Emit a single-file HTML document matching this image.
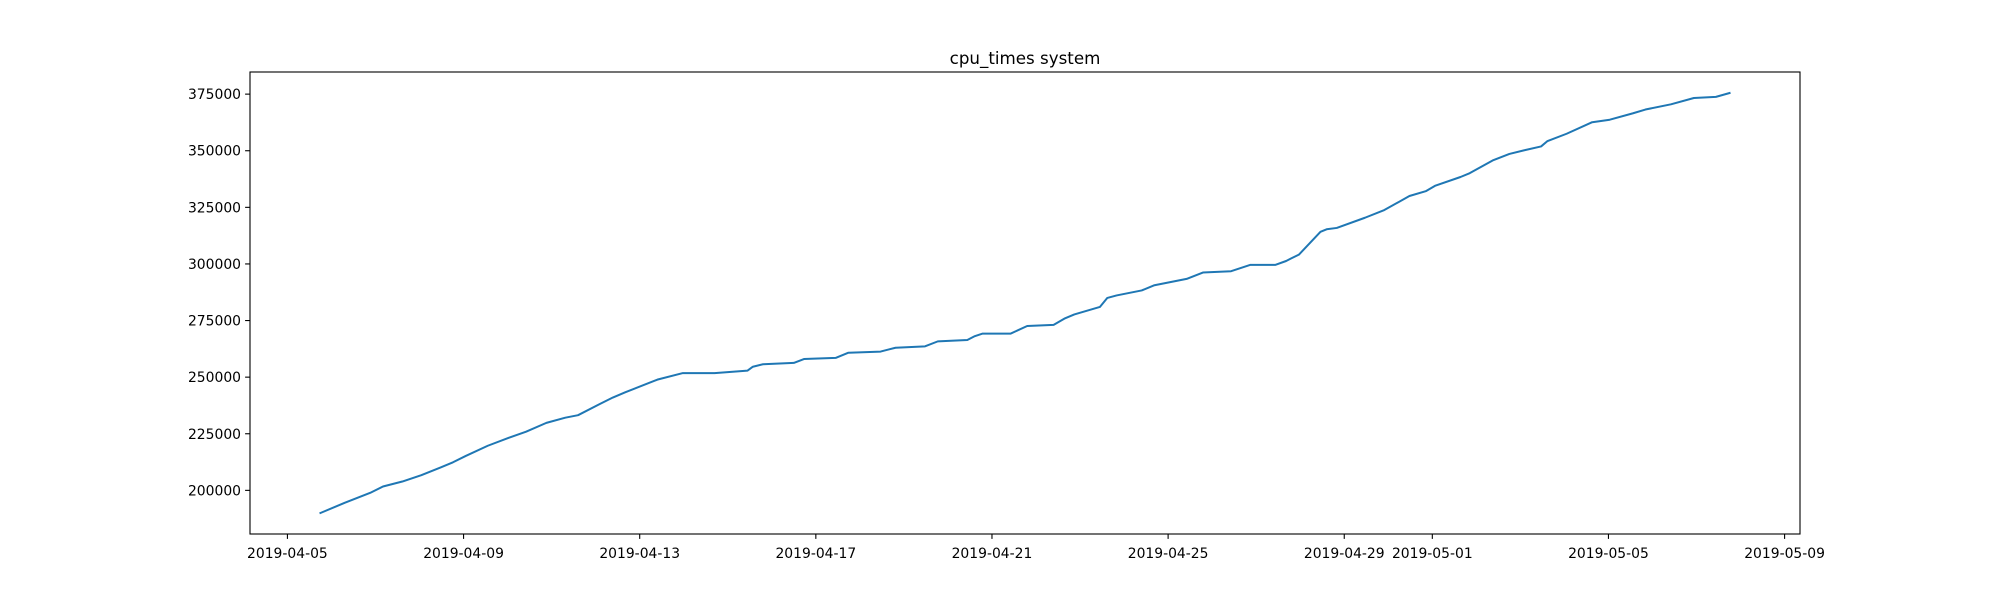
<!DOCTYPE html>
<html><head><meta charset="utf-8"><style>
html,body{margin:0;padding:0;background:#fff;}
svg{display:block;font-family:"DejaVu Sans","Liberation Sans",sans-serif;}
</style></head><body>
<svg id="chart" width="2000" height="600" xmlns="http://www.w3.org/2000/svg"></svg>
<script>
// Data: days since 2019-04-05 00:00, and cpu_times system values
const days = [0.75,1.30,1.88,2.17,2.61,3.04,3.48,3.76,4.05,4.55,5.01,5.42,5.88,6.31,6.60,7.10,7.39,7.67,8.40,8.98,9.70,10.45,10.57,10.80,11.50,11.73,12.45,12.74,13.47,13.81,14.48,14.77,15.44,15.61,15.78,16.42,16.80,17.40,17.66,17.87,18.45,18.62,18.83,19.40,19.69,20.42,20.79,21.43,21.87,22.44,22.68,22.79,22.97,23.46,23.60,23.83,24.47,24.91,25.48,25.86,26.06,26.64,26.85,27.37,27.75,28.09,28.47,28.61,29.05,29.63,30.03,30.55,30.84,31.42,31.94,32.44,32.75];
const values = [190000,194500,198900,201700,203900,206700,210100,212400,215200,219700,223100,225900,229800,232100,233200,238200,241000,243300,248900,251800,251800,252900,254600,255700,256300,258000,258500,260800,261300,263000,263600,265800,266400,268100,269200,269200,272600,273100,276000,277700,281000,285000,286100,288300,290600,293400,296200,296800,299600,299600,301300,302400,304100,314200,315300,315900,320400,323800,330000,332200,334500,338400,340100,345700,348600,350200,351900,354200,357500,362600,363700,366500,368200,370500,373300,373800,375500];
const xTickDays = [0,4,8,12,16,20,24,26,30,34];
const xTickLabels = ["2019-04-05","2019-04-09","2019-04-13","2019-04-17","2019-04-21","2019-04-25","2019-04-29","2019-05-01","2019-05-05","2019-05-09"];
const yTicks = [200000,225000,250000,275000,300000,325000,350000,375000];

const NS="http://www.w3.org/2000/svg";
const svg=document.getElementById('chart');
const L=250,R=1800,T=72,B=534;
const dMin=Math.min(...days),dMax=Math.max(...days);
const vMin=Math.min(...values),vMax=Math.max(...values);
const dm=(dMax-dMin)*0.05, vm=(vMax-vMin)*0.05;
const x0=dMin-dm,x1=dMax+dm,y0=vMin-vm,y1=vMax+vm;
const xs=d=>L+(d-x0)/(x1-x0)*(R-L);
const ys=v=>B-(v-y0)/(y1-y0)*(B-T);
function mk(tag,attrs){const e=document.createElementNS(NS,tag);for(const k in attrs)e.setAttribute(k,attrs[k]);svg.appendChild(e);return e;}

const title=mk('text',{x:1025,y:64,'text-anchor':'middle','font-size':'16.7',fill:'#000'});
title.textContent='cpu_times system';



let d='';
days.forEach((dd,i)=>{d+=(i?'L':'M')+xs(dd).toFixed(2)+' '+ys(values[i]).toFixed(2);});
const line=mk('path',{d:d,fill:'none',stroke:'#1f77b4','stroke-width':'2','stroke-linejoin':'round','stroke-linecap':'square'});



xTickDays.forEach((t,i)=>{
  const x=xs(t);
  const tk=mk('line',{x1:x,x2:x,y1:B,y2:B+4.9,stroke:'#000','stroke-width':'1.1'});
  
  
  const lb=mk('text',{x:x,y:B+24,'text-anchor':'middle','font-size':'13.9',fill:'#000'});
  lb.textContent=xTickLabels[i];
  
  
});
yTicks.forEach(v=>{
  const y=ys(v);
  const tk=mk('line',{x1:L-4.9,x2:L,y1:y,y2:y,stroke:'#000','stroke-width':'1.1'});
  
  
  const lb=mk('text',{x:L-9,y:y+5,'text-anchor':'end','font-size':'13.9',fill:'#000'});
  lb.textContent=String(v);
  
  
});
const frame=mk('rect',{x:L,y:T,width:R-L,height:B-T,fill:'none',stroke:'#000','stroke-width':'1.1'});


</script>
</body></html>
